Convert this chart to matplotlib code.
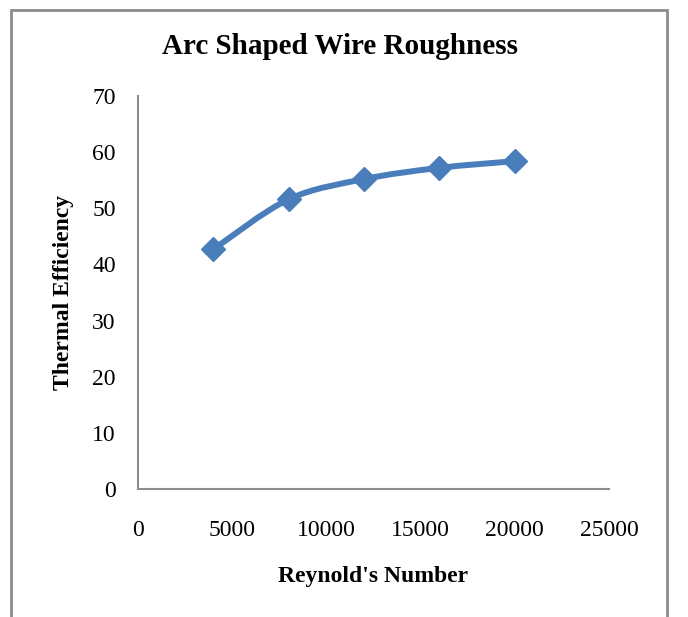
import matplotlib
matplotlib.use('Agg')
import matplotlib.pyplot as plt
from matplotlib.path import Path
from matplotlib.patches import PathPatch, Rectangle
import numpy as np

reynolds = [4000, 8000, 12000, 16000, 20000]
efficiency = [42.7, 51.6, 55.2, 57.2, 58.4]
x_ticks = [0, 5000, 10000, 15000, 20000, 25000]
y_ticks = [0, 10, 20, 30, 40, 50, 60, 70]

plt.rcParams['font.family'] = ['Liberation Serif', 'DejaVu Serif']

blue = '#4a7ebb'
grey = '#8c8c8c'

fig = plt.figure(figsize=(6.88, 6.17), dpi=100)
ax = fig.add_axes([138 / 688, 1 - 489 / 617, (609 - 138) / 688, (489 - 96) / 617])

# smoothed line through the points (cubic bezier segments, catmull-rom style)
pts = np.column_stack([reynolds, efficiency])
verts = [pts[0]]
codes = [Path.MOVETO]
for i in range(len(pts) - 1):
    p0 = pts[i - 1] if i > 0 else pts[i]
    p1 = pts[i]
    p2 = pts[i + 1]
    p3 = pts[i + 2] if i + 2 < len(pts) else pts[i + 1]
    c1 = p1 + (p2 - p0) / 6
    c2 = p2 - (p3 - p1) / 6
    verts += [c1, c2, p2]
    codes += [Path.CURVE4] * 3
ax.add_patch(PathPatch(Path(verts, codes), facecolor='none', edgecolor=blue,
                       lw=4.3, capstyle='round', zorder=2))
ax.plot(reynolds, efficiency, linestyle='none', marker='D', markersize=12,
        color=blue, zorder=3)

ax.set_xlim(0, 25000)
ax.set_ylim(0, 70)
ax.set_xticks(x_ticks)
ax.set_yticks(y_ticks)
ax.tick_params(length=0, labelsize=17, colors='black')
ax.tick_params(axis='x', pad=22)
ax.tick_params(axis='y', pad=16)
for side in ['top', 'right']:
    ax.spines[side].set_visible(False)
for side in ['left', 'bottom']:
    ax.spines[side].set_color(grey)
    ax.spines[side].set_linewidth(1.5)

ax.set_xlabel("Reynold's Number", fontsize=17, fontweight='bold', labelpad=18)
ax.set_ylabel('Thermal Efficiency', fontsize=17, fontweight='bold', labelpad=13)
fig.text(340 / 688, 1 - 46 / 617, 'Arc Shaped Wire Roughness', fontsize=21,
         fontweight='bold', ha='center', va='center')

# chart area frame
fig.patches.append(Rectangle((11 / 688, -0.05), (667 - 11) / 688, 1.05 - 10 / 617,
                             transform=fig.transFigure, facecolor='none',
                             edgecolor=grey, lw=2, zorder=0))

fig.savefig('out.png', dpi=100)
